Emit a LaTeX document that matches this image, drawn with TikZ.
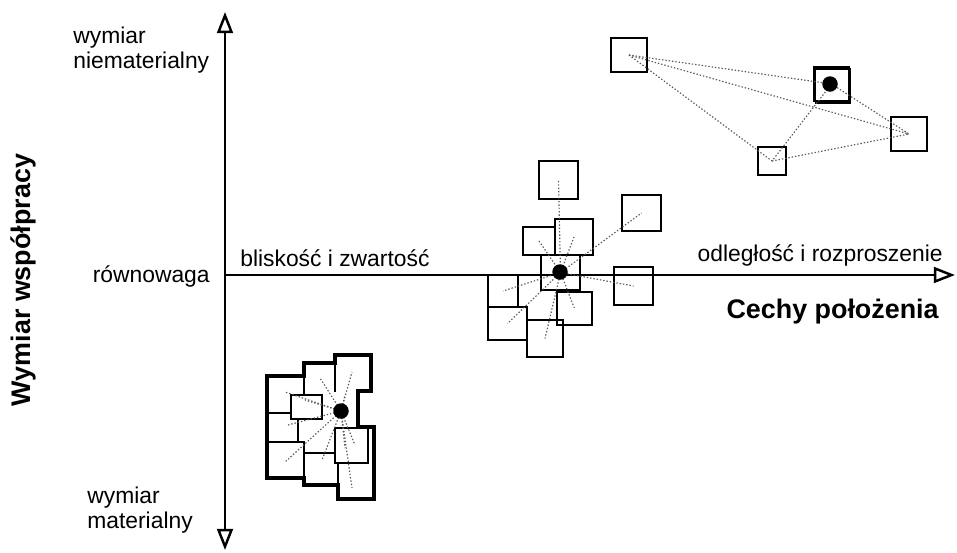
\documentclass[tikz,border=0pt]{standalone}
\usepackage{fontspec}
\setmainfont{Liberation Sans}
\usetikzlibrary{arrows.meta}

\tikzset{
  axis/.style={line width=1.4pt},
  tip/.tip={Triangle[open,length=12pt,width=9pt]},
  txt/.style={font=\fontsize{13}{14.2}\selectfont, inner sep=0},
  heading/.style={font=\fontsize{15.3}{18}\selectfont\bfseries, inner sep=0},
  box/.style 2 args={draw, line width=1.1pt, inner sep=0,
    minimum width=#1*0.02cm, minimum height=#2*0.02cm},
  spot/.style={circle, fill=black, inner sep=0, minimum size=0.31cm},
  link/.style={black!65, line width=0.65pt, dash pattern=on 0.8pt off 1.1pt},
  wall/.style={line width=0.8pt},
}

\begin{document}
\begin{tikzpicture}[x=0.02cm, y=-0.02cm]
        \useasboundingbox (0,0) rectangle (957,552);

        % axes
        \coordinate (top) at (225,12);
        \coordinate (bottom) at (225,550);
        \coordinate (origin) at (225,275);
        \coordinate (right) at (955,275);
        \draw[axis, tip-tip] (bottom) -- (top);
        \draw[axis, -tip] (origin) -- (right);

        \node[txt, align=left, anchor=west] (immat) at (73,50) {wymiar\\niematerialny};
        \node[txt, anchor=east] (balance) at (210,276) {równowaga};
        \node[txt, align=left, anchor=west] (mat) at (87,510) {wymiar\\materialny};
        \node[txt, anchor=west] (near) at (240,258) {bliskość i zwartość};
        \node[txt, anchor=east] (far) at (943,255) {odległość i rozproszenie};
        \node[heading, anchor=east] (xtitle) at (939,312) {Cechy położenia};
        \node[heading, rotate=90] (ytitle) at (23,280) {Wymiar współpracy};

        % scattered cluster (top right)
        \node[box={36}{34}] (s1) at (629,55) {};
        \node[box={35}{34}] (s2) at (831.5,84) {};
        \node[box={35}{34}] (s2b) at (833,86) {};
        \node[box={36}{34}] (s3) at (909,134) {};
        \node[box={28}{28}] (s4) at (772,161) {};
        \draw[link] (s1.center) -- (s2.center);
        \draw[link] (s1.center) -- (s3.center);
        \draw[link] (s1.center) -- (s4.center);
        \draw[link] (s2.center) -- (s3.center);
        \draw[link] (s2.center) -- (s4.center);
        \draw[link] (s4.center) -- (s3.center);
        \node[spot] (s0) at (830,84) {};

        % loose cluster (on the axis)
        \node[box={39}{38}] (m1) at (558.5,180) {};
        \node[box={39}{36}] (m2) at (641.5,213) {};
        \node[box={32}{28}] (m3) at (539,241) {};
        \node[box={38}{36}] (m4) at (574,237) {};
        \node[box={39}{35}] (m5) at (560.5,272.5) {};
        \node[box={39}{38}] (m6) at (633.5,286) {};
        \node[box={30}{32}] (m7) at (503,291) {};
        \node[box={39}{33}] (m8) at (507.5,323.5) {};
        \node[box={36}{37}] (m9) at (545,338.5) {};
        \node[box={35}{33}] (m10) at (574.5,308.5) {};
        \foreach \s in {m1,m2,m3,m4,m6,m7,m8,m9,m10}
          \draw[link] (m5.center) -- (\s.center);
        \node[spot] (m0) at (560,272) {};

        % compact cluster (bottom left)
        \draw[line width=2.4pt, line join=miter] (267,376) -- (304,376) -- (304,363) -- (335,363)
          -- (335,355) -- (371,355) -- (371,391) -- (358,391) -- (358,427) -- (374,427)
          -- (374,499) -- (338,499) -- (338,485) -- (304,485) -- (304,478) -- (267,478) -- cycle;
        \node[box={31}{24}] (c1) at (306.5,407) {};
        \node[box={33}{35}] (c2) at (351.5,445.5) {};
        \draw[wall] (267,413) -- (291,413);
        \draw[wall] (267,442) -- (304,442) -- (304,478);
        \draw[wall] (298,419) -- (298,442);
        \draw[wall] (304,453) -- (335,453);
        \draw[wall] (304,376) -- (304,395);
        \draw[wall] (335,363) -- (335,392);
        \draw[wall] (338,463) -- (338,485);
        \coordinate (hub) at (341,411);
        \foreach \p in {(285,392),(305,400),(320,378),(352,372),(345,395),(288,425),
                        (285,462),(322,460),(352,488),(355,445),(345,448)}
          \draw[link] (hub) -- \p;
        \node[spot] (c0) at (hub) {};
      \end{tikzpicture}
\end{document}
